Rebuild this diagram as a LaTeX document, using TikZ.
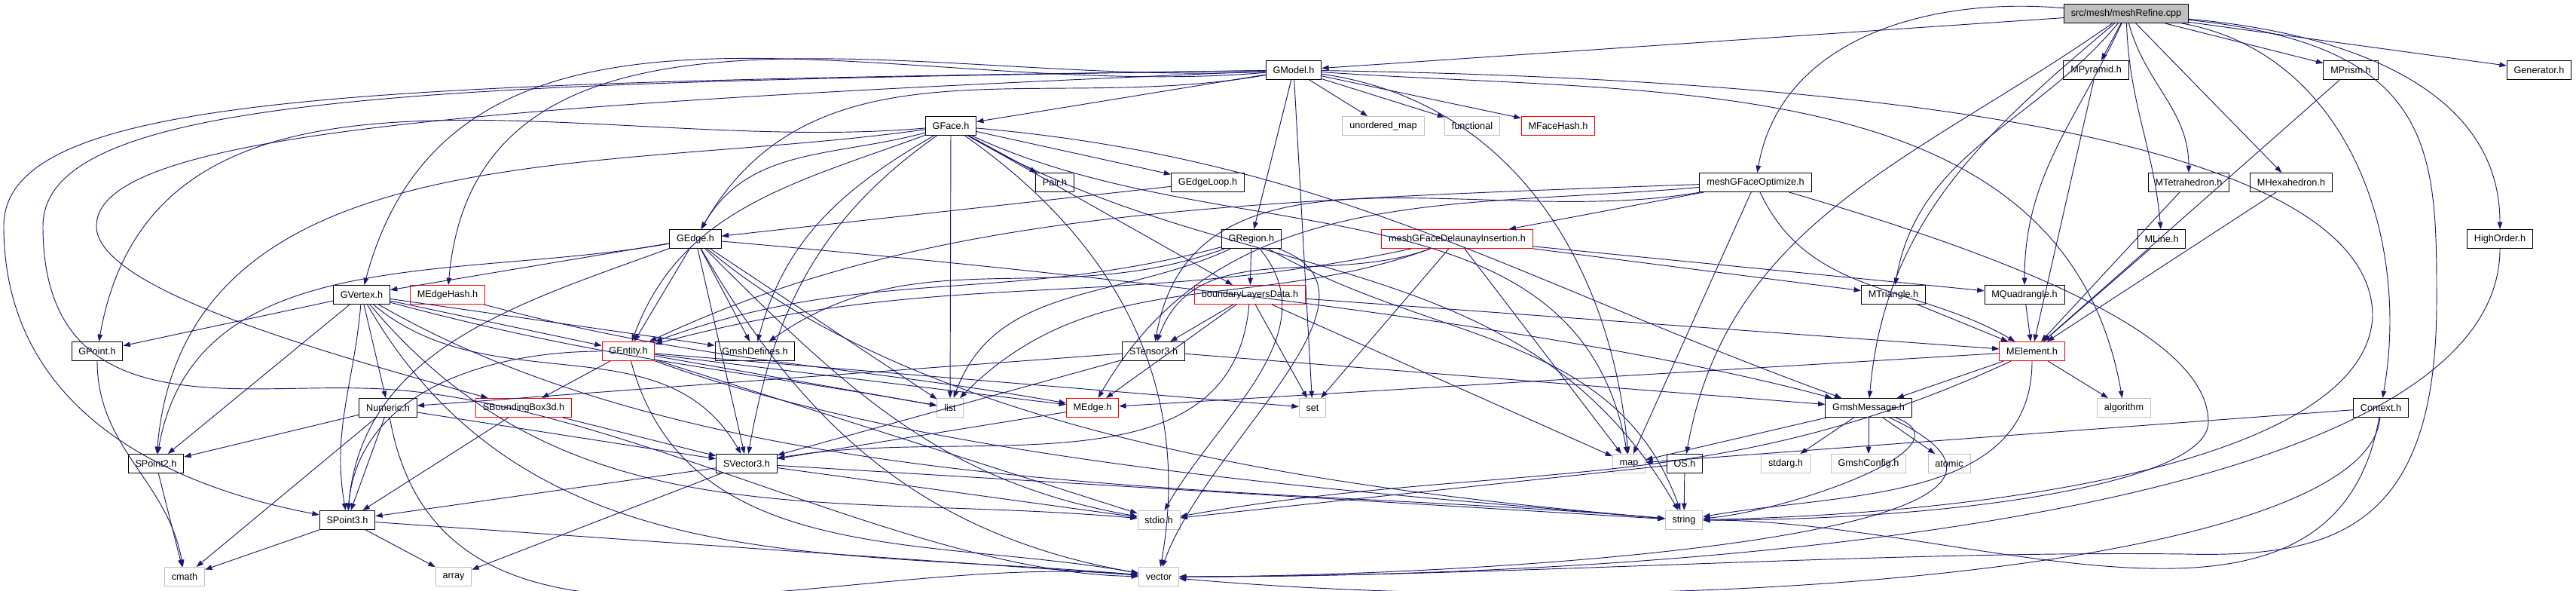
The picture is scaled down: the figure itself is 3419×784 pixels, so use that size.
\documentclass[tikz,border=0pt]{standalone}
\usepackage{fontspec}
\setmainfont{Liberation Sans}
\usetikzlibrary{
  arrows.meta,
  calc
}
\definecolor{edgeblue}{HTML}{191970}
\definecolor{sysgray}{HTML}{BFBFBF}
\definecolor{srcfill}{HTML}{BFBFBF}
\definecolor{incred}{HTML}{FF0000}

\begin{document}
\begin{tikzpicture}[
  x=0.75pt, y=-0.75pt,
  file/.style={draw=black, fill=white, line width=0.75pt, font=\fontsize{9.5}{11}\selectfont,
               inner xsep=7pt, inner ysep=0pt, minimum height=18.75pt},
  sys/.style={file, draw=sysgray},
  bad/.style={file, draw=incred},
  src/.style={file, fill=srcfill},
  dep/.style={draw=edgeblue, line width=0.7pt, -{Triangle[length=7pt,width=5pt]}},
]
  \useasboundingbox (0,0) rectangle (3419,784);

  \node[src] (refine) at (2822,18) {src/mesh/meshRefine.cpp};
  \node[file] (gmodel) at (1717,93) {GModel.h};
  \node[file] (mpyramid) at (2782,93) {MPyramid.h};
  \node[file] (mprism) at (3120,93) {MPrism.h};
  \node[file] (generator) at (3370,93) {Generator.h};
  \node[file] (gface) at (1262,167) {GFace.h};
  \node[sys] (umap) at (1836,167) {unordered\_map};
  \node[sys] (functional) at (1954,167) {functional};
  \node[bad] (mfacehash) at (2068,167) {MFaceHash.h};
  \node[file] (pair) at (1400,242) {Pair.h};
  \node[file] (gedgeloop) at (1603,242) {GEdgeLoop.h};
  \node[file] (optimize) at (2330,242) {meshGFaceOptimize.h};
  \node[file] (mtet) at (2905,242) {MTetrahedron.h};
  \node[file] (mhex) at (3041,242) {MHexahedron.h};
  \node[file] (gedge) at (923,317) {GEdge.h};
  \node[file] (gregion) at (1661,317) {GRegion.h};
  \node[bad] (delaunay) at (1934,317) {meshGFaceDelaunayInsertion.h};
  \node[file] (mline) at (2869,317) {MLine.h};
  \node[file] (highorder) at (3318,317) {HighOrder.h};
  \node[file] (gvertex) at (480,391) {GVertex.h};
  \node[bad] (medgehash) at (594,391) {MEdgeHash.h};
  \node[bad] (bldata) at (1659,391) {boundaryLayersData.h};
  \node[file] (mtri) at (2513,391) {MTriangle.h};
  \node[file] (mquad) at (2687,391) {MQuadrangle.h};
  \node[file] (gpoint) at (129,466) {GPoint.h};
  \node[bad] (gentity) at (834,466) {GEntity.h};
  \node[file] (gmshdefines) at (1002,466) {GmshDefines.h};
  \node[file] (stensor) at (1531,466) {STensor3.h};
  \node[bad] (melement) at (2697,466) {MElement.h};
  \node[file] (numeric) at (515,541) {Numeric.h};
  \node[bad] (sbbox) at (695,541) {SBoundingBox3d.h};
  \node[sys] (list) at (1261,541) {list};
  \node[bad] (medge) at (1450,541) {MEdge.h};
  \node[sys] (set) at (1742,541) {set};
  \node[file] (message) at (2480,541) {GmshMessage.h};
  \node[sys] (algorithm) at (2819,541) {algorithm};
  \node[file] (context) at (3160,541) {Context.h};
  \node[file] (spoint2) at (207,615) {SPoint2.h};
  \node[file] (svector) at (991,615) {SVector3.h};
  \node[sys] (map) at (2162,615) {map};
  \node[file] (os) at (2236,615) {OS.h};
  \node[sys] (stdarg) at (2370,615) {stdarg.h};
  \node[sys] (gmshconfig) at (2480,615) {GmshConfig.h};
  \node[sys] (atomic) at (2587,615) {atomic};
  \node[file] (spoint3) at (461,690) {SPoint3.h};
  \node[sys] (stdio) at (1538,690) {stdio.h};
  \node[sys] (string) at (2235,690) {string};
  \node[sys] (cmath) at (245,765) {cmath};
  \node[sys] (array) at (602,765) {array};
  \node[sys] (vector) at (1538,765) {vector};

  \draw[dep] (refine) -- (gmodel);
  \draw[dep] (refine) to[out=175,in=80] (optimize);
  \draw[dep] (refine) -- (mpyramid);
  \draw[dep] (refine) -- (mprism);
  \draw[dep] (refine) -- (generator);
  \draw[dep] (refine) to[out=-75,in=90] (mtet);
  \draw[dep] (refine) -- (mhex);
  \draw[dep] (refine) to[out=-88,in=95] (mline);
  \draw[dep] (refine) to[out=-5,in=90] (highorder);
  \draw[dep] (refine) to[out=-130,in=80] (mtri);
  \draw[dep] (refine) to[out=-115,in=90] (mquad);
  \draw[dep] (refine) to[out=-140,in=85] (message);
  \draw[dep] (refine) to[out=-145,in=80] (os);
  \draw[dep] (refine) to[out=-10,in=80] (context);
  \draw[dep] (refine) .. controls (3234,60) and (3234,200) .. (3234,400)
    .. controls (3234,700) and (3100,740) .. (2900,735)
    .. controls (2500,730) and (2000,765) .. (vector);

  \draw[dep] (gmodel) -- (gface);
  \draw[dep] (gmodel) -- (gregion);
  \draw[dep] (gmodel) -- (umap);
  \draw[dep] (gmodel) -- (functional);
  \draw[dep] (gmodel) -- (mfacehash);
  \draw[dep] (gmodel) -- (set);
  \draw[dep] (gmodel) to[out=-8,in=95] (map);
  \draw[dep] (gmodel) to[out=-4,in=100] (algorithm);
  \draw[dep] (gmodel) .. controls (2800,110) and (3150,250) .. (3149,420)
    .. controls (3140,600) and (2700,680) .. (string);
  \draw[dep] (gmodel) to[out=190,in=60] (gedge);
  \draw[dep] (gmodel) to[out=185,in=75] (gvertex);
  \draw[dep] (gmodel) to[out=183,in=85] (medgehash);
  \draw[dep] (gmodel) .. controls (500,110) and (5,120) .. (5,300)
    .. controls (5,560) and (250,650) .. (spoint3);
  \draw[dep] (gmodel) .. controls (600,110) and (57,120) .. (57,300)
    .. controls (57,560) and (300,510) .. (480,515)
    .. controls (800,520) and (1200,760) .. (vector);
  \draw[dep] (gmodel) .. controls (600,140) and (128,180) .. (128,300)
    .. controls (128,380) and (400,460) .. (sbbox);

  \draw[dep] (gface) -- (pair);
  \draw[dep] (gface) -- (gedgeloop);
  \draw[dep] (gface) -- (bldata);
  \draw[dep] (gface) -- (list);
  \draw[dep] (gface) to[out=195,in=60] (gedge);
  \draw[dep] (gface) to[out=185,in=80] (gpoint);
  \draw[dep] (gface) to[out=188,in=85] (spoint2);
  \draw[dep] (gface) to[out=200,in=70] (gentity);
  \draw[dep] (gface) to[out=210,in=75] (gmshdefines);
  \draw[dep] (gface) to[out=215,in=80] (svector);
  \draw[dep] (gface) to[out=-5,in=160] (message);
  \draw[dep] (gface) to[out=-25,in=100] (map);
  \draw[dep] (gface) to[out=-30,in=120] (string);
  \draw[dep] (gface) to[out=-35,in=80] (vector);
  \draw[dep] (gedgeloop) -- (gedge);

  \draw[dep] (gedge) -- (gvertex);
  \draw[dep] (gedge) -- (gentity);
  \draw[dep] (gedge) -- (gmshdefines);
  \draw[dep] (gedge) -- (svector);
  \draw[dep] (gedge) -- (list);
  \draw[dep] (gedge) to[out=190,in=80] (spoint2);
  \draw[dep] (gedge) to[out=200,in=85] (spoint3);
  \draw[dep] (gedge) to[out=-45,in=170] (stdio);
  \draw[dep] (gedge.-40) .. controls +(-40:300pt) and +(175:300pt) .. (string.175);
  \draw[dep] (gedge) to[out=-60,in=170] (vector);
  \draw[dep] (gedge.-5) .. controls +(-5:300pt) and +(165:300pt) .. (message.165);

  \draw[dep] (gvertex) -- (gpoint);
  \draw[dep] (gvertex) -- (spoint2);
  \draw[dep] (gvertex) to[out=-95,in=100] (spoint3);
  \draw[dep] (gvertex) -- (numeric);
  \draw[dep] (gvertex) -- (gentity);
  \draw[dep] (gvertex) -- (gmshdefines);
  \draw[dep] (gvertex) to[out=-40,in=120] (svector);
  \draw[dep] (gvertex) to[out=-15,in=170] (list);
  \draw[dep] (gvertex.-30) .. controls +(-30:400pt) and +(175:400pt) .. (string.175);
  \draw[dep] (gvertex) to[out=-60,in=175] (vector);
  \draw[dep] (gvertex) to[out=-50,in=175] (stdio);

  \draw[dep] (gregion) -- (bldata);
  \draw[dep] (gregion) to[out=195,in=20] (gentity);
  \draw[dep] (gregion) to[out=200,in=35] (gmshdefines);
  \draw[dep] (gregion) to[out=205,in=70] (list);
  \draw[dep] (gregion) to[out=-30,in=110] (string);
  \draw[dep] (gregion) to[out=-50,in=60] (stdio);
  \draw[dep] (gregion) to[out=-20,in=70] (vector);

  \draw[dep] (optimize) -- (delaunay);
  \draw[dep] (optimize) to[out=190,in=80] (stensor);
  \draw[dep] (optimize) to[out=185,in=60] (medge);
  \draw[dep] (optimize.182) .. controls +(182:500pt) and +(25:300pt) .. (gentity.25);
  \draw[dep] (optimize) -- (map);
  \draw[dep] (optimize) to[out=-65,in=150] (melement);
  \draw[dep] (optimize) .. controls (2700,350) and (2931,450) .. (2931,560)
    .. controls (2931,640) and (2600,690) .. (string);

  \draw[dep] (delaunay) -- (mtri);
  \draw[dep] (delaunay) -- (mquad);
  \draw[dep] (delaunay) to[out=200,in=70] (stensor);
  \draw[dep] (delaunay) to[out=192,in=15] (gentity);
  \draw[dep] (delaunay) to[out=200,in=45] (list);
  \draw[dep] (delaunay) -- (set);
  \draw[dep] (delaunay) -- (map);

  \draw[dep] (bldata) -- (stensor);
  \draw[dep] (bldata) -- (medge);
  \draw[dep] (bldata) to[out=-95,in=10] (svector);
  \draw[dep] (bldata) -- (set);
  \draw[dep] (bldata) -- (map);
  \draw[dep] (bldata) -- (melement);
  \draw[dep] (medgehash) to[out=-15,in=170] (medge);

  \draw[dep] (gentity) to[out=180,in=85] (spoint3);
  \draw[dep] (gentity) -- (sbbox);
  \draw[dep] (gentity) -- (list);
  \draw[dep] (gentity) -- (medge);
  \draw[dep] (gentity) -- (set);
  \draw[dep] (gentity.-20) .. controls +(-20:300pt) and +(175:300pt) .. (string.175);
  \draw[dep] (gentity) -- (stdio);
  \draw[dep] (gentity) to[out=-75,in=170] (vector);

  \draw[dep] (numeric) -- (spoint2);
  \draw[dep] (numeric) -- (spoint3);
  \draw[dep] (numeric) -- (svector);
  \draw[dep] (numeric) -- (cmath);
  \draw[dep] (numeric) to[out=-80,in=175] (vector);
  \draw[dep] (sbbox) -- (spoint3);
  \draw[dep] (sbbox) -- (svector);
  \draw[dep] (spoint2) -- (cmath);
  \draw[dep] (gpoint) to[out=-90,in=100] (cmath);
  \draw[dep] (svector) -- (spoint3);
  \draw[dep] (svector) -- (array);
  \draw[dep] (svector) -- (string);
  \draw[dep] (svector) -- (stdio);
  \draw[dep] (spoint3) -- (cmath);
  \draw[dep] (spoint3) -- (array);
  \draw[dep] (spoint3) -- (vector);
  \draw[dep] (stensor) -- (numeric);
  \draw[dep] (stensor) -- (svector);
  \draw[dep] (stensor) -- (message);
  \draw[dep] (medge) -- (svector);

  \draw[dep] (mtri) -- (melement);
  \draw[dep] (mquad) -- (melement);
  \draw[dep] (mline) -- (melement);
  \draw[dep] (mtet) -- (melement);
  \draw[dep] (mhex) -- (melement);
  \draw[dep] (mprism) -- (melement);
  \draw[dep] (mpyramid) -- (melement);
  \draw[dep] (melement) -- (medge);
  \draw[dep] (melement) -- (message);
  \draw[dep] (melement) -- (algorithm);
  \draw[dep] (melement) to[out=-90,in=10] (string);
  \draw[dep] (melement) to[out=205,in=10] (stdio);
  \draw[dep] (message) -- (map);
  \draw[dep] (message) -- (stdarg);
  \draw[dep] (message) -- (gmshconfig);
  \draw[dep] (message) -- (atomic);
  \draw[dep] (message) to[out=-20,in=5] (string);
  \draw[dep] (message) to[out=-25,in=0] (vector);
  \draw[dep] (os) -- (string);
  \draw[dep] (os) -- (stdio);
  \draw[dep] (context) -- (map);
  \draw[dep] (context) to[out=-100,in=0] (string);
  \draw[dep] (context.-95) .. controls +(-95:150pt) and +(-5:500pt) .. (vector.-5);
  \draw[dep] (highorder.-90) .. controls +(-90:250pt) and +(0:600pt) .. (vector.east);
\end{tikzpicture}
\end{document}
